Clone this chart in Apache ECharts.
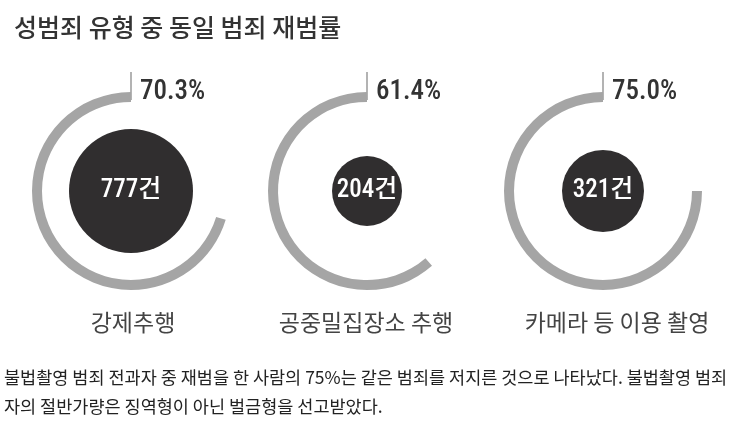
<!DOCTYPE html>
<html><head><meta charset="utf-8">
<script src="https://cdn.jsdelivr.net/npm/echarts@6/dist/echarts.min.js"></script>
<style>html,body{margin:0;padding:0;background:#fff}#c{width:743px;height:427px}</style>
</head><body><div id="c"></div>
<script>
const categories = ['강제추행', '공중밀집장소 추행', '카메라 등 이용 촬영'];
const repeatRates = [70.3, 61.4, 75.0];
const counts = [777, 204, 321];
const titleText = '성범죄 유형 중 동일 범죄 재범률';
const noteLines = ['불법촬영 범죄 전과자 중 재범을 한 사람의 75%는 같은 범죄를 저지른 것으로 나타났다. 불법촬영 범죄',
                   '자의 절반가량은 징역형이 아닌 벌금형을 선고받았다.'];

const centersX = [131, 367, 603];
const labelX = [133, 366, 617];
const cy = 191;
const innerR = [62, 35, 41];
const NUM = "'Liberation Sans Narrow','Roboto Condensed','Noto Sans CJK KR',sans-serif";
const KR = "'Noto Sans CJK KR','Noto Sans',sans-serif";

const chart = echarts.init(document.getElementById('c'));
const series = [];
const graphic = [];
categories.forEach((cat, i) => {
  series.push({
    type: 'pie', silent: true, center: [centersX[i], cy], radius: [89, 99],
    startAngle: 90, clockwise: false, label: {show: false}, labelLine: {show: false},
    data: [
      {value: repeatRates[i], itemStyle: {color: '#a5a5a5'}},
      {value: 100 - repeatRates[i], itemStyle: {color: 'rgba(0,0,0,0)'}}
    ]
  });
  series.push({
    type: 'pie', silent: true, center: [centersX[i], cy], radius: [0, innerR[i]],
    label: {show: true, position: 'center', formatter: counts[i] + '건', color: '#fff',
      fontSize: 25, fontWeight: 500, fontFamily: NUM},
    labelLine: {show: false},
    data: [{value: counts[i], itemStyle: {color: '#302e2f'}}]
  });
  graphic.push({type: 'line', shape: {x1: centersX[i], y1: 72, x2: centersX[i], y2: 100},
    style: {stroke: '#9a9a9a', lineWidth: 1.5}});
  graphic.push({type: 'text', left: centersX[i] + 9, top: 79,
    style: {text: repeatRates[i].toFixed(1) + '%', fill: '#333', font: "500 27px " + NUM}});
  graphic.push({type: 'text', x: labelX[i], y: 322,
    style: {text: cat, fill: '#444', font: "23px " + KR, textAlign: 'center', textVerticalAlign: 'middle'}});
});
graphic.push({type: 'text', left: 14, top: 15, style: {text: titleText, fill: '#333', font: "500 25px " + KR}});
noteLines.forEach((t, k) => {
  graphic.push({type: 'text', left: 4, top: 369 + k * 29, style: {text: t, fill: '#222', font: "17.5px " + KR}});
});
chart.setOption({backgroundColor: '#fff', animation: false, series, graphic});
</script></body></html>
